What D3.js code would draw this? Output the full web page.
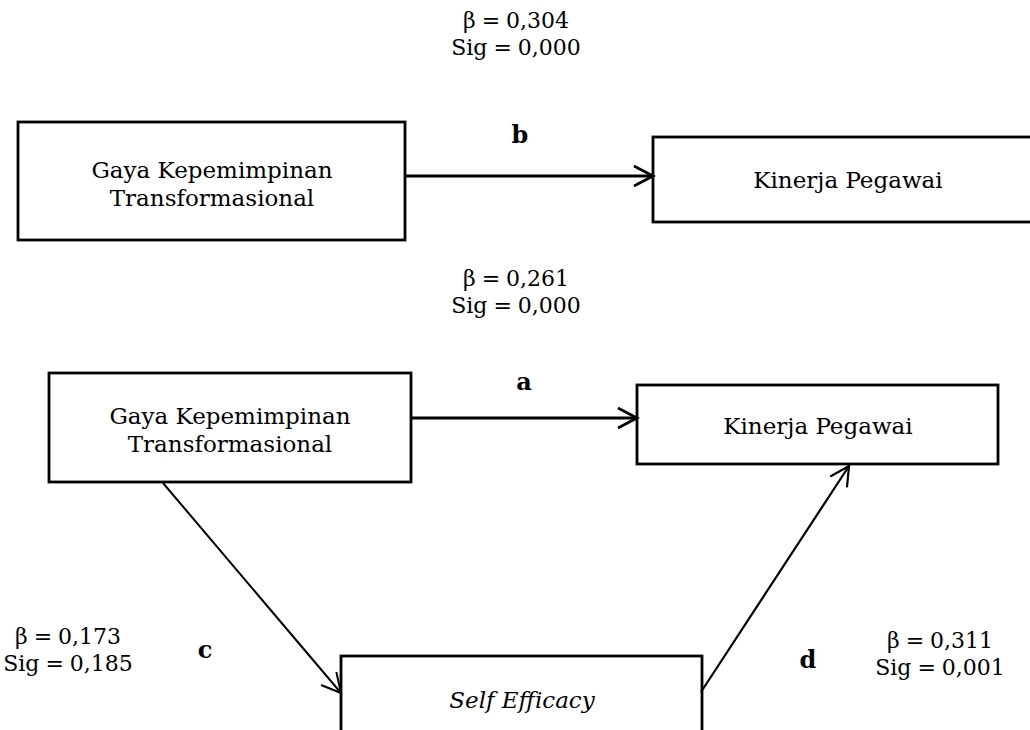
<!DOCTYPE html>
<html>
<head>
<meta charset="utf-8">
<script src="https://cdn.jsdelivr.net/npm/d3@7"></script>
<style>
  body { margin: 0; background: #fff; }
  text { font-family: "DejaVu Serif", serif; fill: #000; }
</style>
</head>
<body>
<script>
// path coefficients (model 1: b ; model 2: a, c, d)
var pathLetters = ["b", "a", "c", "d"];
var betas = ["0,304", "0,261", "0,173", "0,311"];
var sigs = ["0,000", "0,000", "0,185", "0,001"];
var nodeLabels = [
    ["Gaya Kepemimpinan", "Transformasional"],
    ["Kinerja Pegawai"],
    ["Gaya Kepemimpinan", "Transformasional"],
    ["Kinerja Pegawai"],
    ["Self Efficacy"]
];
var nodeItalic = [false, false, false, false, true];

var width = 1030;
var height = 730;
var svg = d3.select('body')
    .append("svg")
    .attr("width", width)
    .attr("height", height);

// layout of the boxes (pixels)
var boxes = [
    {x: 18, y: 122, w: 387, h: 118},
    {x: 653, y: 137, w: 400, h: 85},
    {x: 49, y: 373, w: 362, h: 109},
    {x: 637, y: 385, w: 361, h: 79},
    {x: 341, y: 656, w: 361, h: 100}
];
var textCenter = [
    [212, 184], [848, 180], [230, 430], [818, 426], [522, 700]
];
// arrows: from point, to point
var arrows = [
    {from: [405, 176], to: [653, 176], w: 2.8},
    {from: [411, 418], to: [637, 418], w: 2.8},
    {from: [163, 483], to: [341, 693], w: 2},
    {from: [701, 692], to: [849, 466], w: 2.2}
];
var letterPos = [[520, 135], [524, 382], [205, 650], [808, 660]];
var coefPos = [[516, 20], [516, 278], [68, 636], [940, 640]];
var lineGap = 28;

var nodeGroup = svg.append("g").classed("nodes", true);
nodeGroup.selectAll("rect")
    .data(boxes)
    .enter()
    .append("rect")
    .attr("x", function (d) { return d.x; })
    .attr("y", function (d) { return d.y; })
    .attr("width", function (d) { return d.w; })
    .attr("height", function (d) { return d.h; })
    .attr("fill", "none")
    .attr("stroke", "#000")
    .attr("stroke-width", 2.8);

nodeGroup.selectAll("text.node")
    .data(nodeLabels)
    .enter()
    .append("text")
    .classed("node", true)
    .attr("text-anchor", "middle")
    .attr("font-size", 23)
    .attr("font-style", function (d, i) { return nodeItalic[i] ? "italic" : "normal"; })
    .each(function (lines, i) {
        var c = textCenter[i];
        var start = c[1] - (lines.length - 1) * lineGap / 2;
        d3.select(this).selectAll("tspan")
            .data(lines)
            .enter()
            .append("tspan")
            .attr("x", c[0])
            .attr("y", function (l, j) { return start + j * lineGap; })
            .attr("dy", "0.35em")
            .text(function (l) { return l; });
    });

var arrowGroup = svg.append("g").classed("arrows", true);
var line = d3.line();
arrows.forEach(function (a) {
    arrowGroup.append("path")
        .attr("d", line([a.from, a.to]))
        .attr("stroke", "#000")
        .attr("stroke-width", a.w)
        .attr("fill", "none");
    var ang = Math.atan2(a.to[1] - a.from[1], a.to[0] - a.from[0]);
    var len = 19, half = 10;
    var bx = a.to[0] - len * Math.cos(ang), by = a.to[1] - len * Math.sin(ang);
    var px = -Math.sin(ang) * half, py = Math.cos(ang) * half;
    arrowGroup.append("path")
        .attr("d", line([[bx + px, by + py], a.to, [bx - px, by - py]]))
        .attr("stroke", "#000")
        .attr("stroke-width", a.w)
        .attr("fill", "none");
});

var labelGroup = svg.append("g").classed("labels", true);
labelGroup.selectAll("text.letter")
    .data(pathLetters)
    .enter()
    .append("text")
    .classed("letter", true)
    .attr("x", function (d, i) { return letterPos[i][0]; })
    .attr("y", function (d, i) { return letterPos[i][1]; })
    .attr("dy", "0.35em")
    .attr("text-anchor", "middle")
    .attr("font-size", 24)
    .attr("font-weight", "bold")
    .text(function (d) { return d; });

labelGroup.selectAll("text.coef")
    .data(betas)
    .enter()
    .append("text")
    .classed("coef", true)
    .attr("text-anchor", "middle")
    .attr("font-size", 22)
    .attr("word-spacing", -1)
    .each(function (b, i) {
        var p = coefPos[i];
        var t = d3.select(this);
        t.append("tspan").attr("x", p[0]).attr("y", p[1]).attr("dy", "0.35em")
            .text("\u03b2 = " + b);
        t.append("tspan").attr("x", p[0]).attr("y", p[1] + 27).attr("dy", "0.35em")
            .text("Sig = " + sigs[i]);
    });
</script>
</body>
</html>
